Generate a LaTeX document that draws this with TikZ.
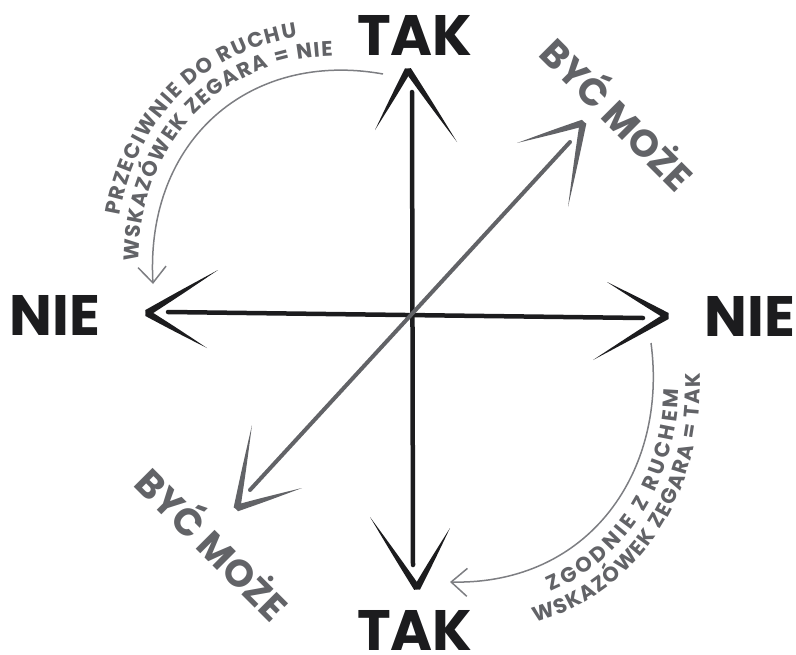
\documentclass[tikz,border=0pt]{standalone}
\usepackage{fontspec}
\setmainfont{Poppins}
\usetikzlibrary{calc,arrows.meta,decorations.text}
\definecolor{ink}{RGB}{28,28,30}
\definecolor{szary}{RGB}{98,99,103}
\definecolor{jasny}{RGB}{125,126,130}
\newcommand{\skrzydlo}[3][ink]{%
  \fill[#1] ($(#2)!-1.5pt!(#3)$) -- ($(#2)!3.4pt!90:(#3)$)
    .. controls ($(#2)!0.45!(#3)!2.2pt!90:(#3)$) .. (#3)
    .. controls ($(#2)!0.45!(#3)!2.2pt!-90:(#3)$) .. ($(#2)!3.4pt!-90:(#3)$) -- cycle;}
\tikzset{
  duzy/.style={font=\bfseries\fontsize{57}{60}\selectfont, text=ink, inner sep=0pt},
  ukos/.style={font=\bfseries\fontsize{38}{40}\selectfont, text=szary, inner sep=0pt, rotate=-45},
  os/.style={draw=ink, line width=4.5pt, line cap=round},
  przekatna/.style={draw=szary, line width=4pt, line cap=round},
  luk/.style={draw=jasny, line width=1.5pt, -{Straight Barb[length=16pt,width=28pt]}},
  napis/.style n args={3}{decorate, decoration={text along path,
      text align={fit to path, left indent=#1, right indent=#2},
      text={|\bfseries\fontsize{21}{23}\selectfont|#3}, text color=szary}}
}
\begin{document}
\begin{tikzpicture}[x=1pt,y=-1pt]
	\useasboundingbox (0,0) rectangle (796,654);
	\node[duzy] (takG) at (415,35) {TAK};
	\node[duzy] (takD) at (415,630) {TAK};
	\node[duzy] (nieL) at (55,315) {NIE};
	\node[duzy] (nieP) at (750,316) {NIE};
	\node[ukos] (bycG) at (620,112) {BYĆ MOŻE};
	\node[ukos] (bycD) at (215,542) {BYĆ MOŻE};
	\coordinate (g) at (408,70);
	\coordinate (d) at (417,588);
	\coordinate (l) at (147,313);
	\coordinate (p) at (667,316);
	\coordinate (pg) at (583,123);
	\coordinate (ld) at (237,508);
	\coordinate (g1) at (412,92);
	\coordinate (d1) at (413,565);
	\coordinate (l1) at (168,312);
	\coordinate (p1) at (643,318);
	\coordinate (pg1) at (570,142);
	\coordinate (ld1) at (250,490);
	\draw[os] (g1) -- (d1);
	\draw[os] (l1) -- (p1);
	\draw[przekatna] (ld1) -- (pg1);
	\skrzydlo{g}{375,130} \skrzydlo{g}{457,142}
	\skrzydlo{d}{370,517} \skrzydlo{d}{450,528}
	\skrzydlo{l}{218,270} \skrzydlo{l}{207,348}
	\skrzydlo{p}{607,282} \skrzydlo{p}{593,360}
	\skrzydlo[szary]{pg}{517,143} \skrzydlo[szary]{pg}{568,207}
	\skrzydlo[szary]{ld}{252,425} \skrzydlo[szary]{ld}{302,488}
	\coordinate (a1) at (383,74);
	\coordinate (a2) at (153,284);
	\coordinate (b1) at (651,343);
	\coordinate (b2) at (450,582);
	\draw[luk] (a1) .. controls (250,50) and (145,140) .. (a2);
	\draw[luk] (b1) .. controls (668,470) and (590,585) .. (b2);
	\path[napis={65pt}{85pt}{PRZECIWNIE DO RUCHU}] (116.5,280.4) .. controls (107.3,115.4) and (228.4,11.5) .. (381.9,39.2);
	\path[napis={20pt}{50pt}{WSKAZÓWEK ZEGARA = NIE}] (138.8,282) .. controls (130.3,130.4) and (241.6,35) .. (382.6,60.4);
	\path[napis={100pt}{45pt}{ZGODNIE Z RUCHEM}] (453.3,609.7) .. controls (608.7,613) and (695.3,485.4) .. (676.4,344.4);
	\path[napis={80pt}{28pt}{WSKAZÓWEK ZEGARA = TAK}] (456,632.4) .. controls (624,636) and (717.6,498) .. (697.2,345.6);
\end{tikzpicture}
\end{document}
